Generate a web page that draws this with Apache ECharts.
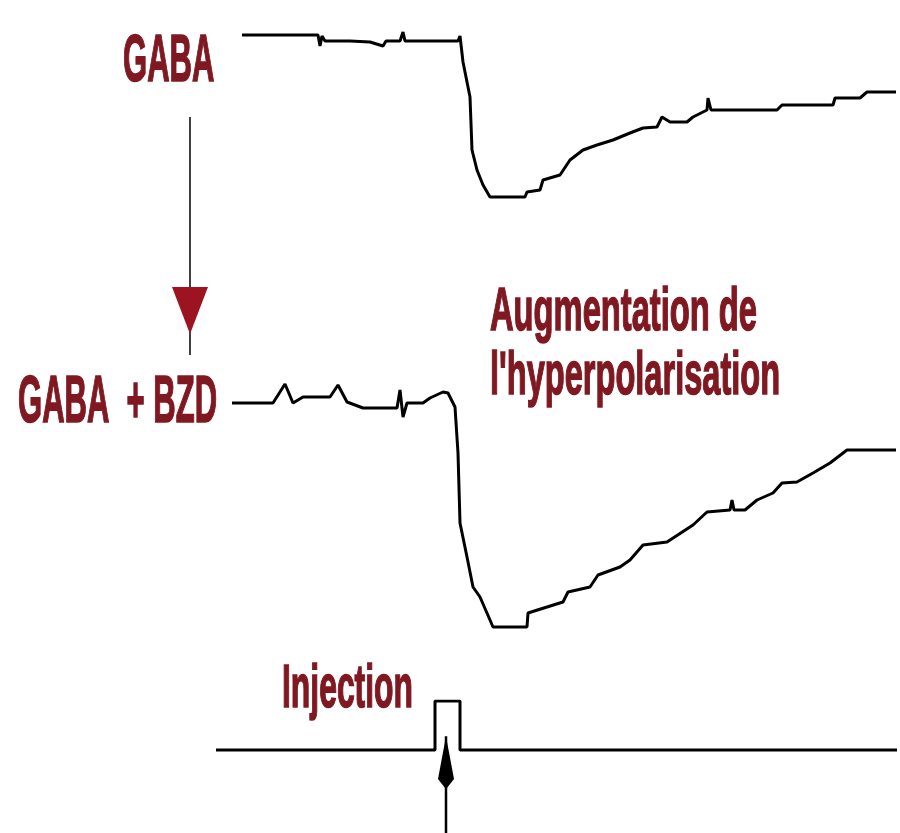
<!DOCTYPE html>
<html>
<head>
<meta charset="utf-8">
<script src="https://cdn.jsdelivr.net/npm/echarts@6/dist/echarts.min.js"></script>
<style>html,body{margin:0;padding:0;background:#fff}#c{width:900px;height:833px}</style>
</head>
<body>
<div id="c"></div>
<script>
// Time (arbitrary units) and membrane potential change (mV, arbitrary) for each trace
const gabaT = [2.4,10.0,10.2,10.4,10.7,13.2,15.2,16.5,16.8,18.2,18.5,18.7,24.0,24.2,24.5,25.2,25.4,25.9,26.5,27.2,30.7,30.9,32.2,32.5,34.2,35.2,36.5,37.9,39.5,41.2,42.5,43.9,44.4,45.2,46.9,47.5,48.9,49.0,49.3,55.9,56.4,61.5,61.7,64.2,64.9,67.8];
const gabaV = [0.2,0.2,-0.9,0.1,-0.4,-0.4,-0.5,-0.9,-0.4,-0.4,0.5,-0.4,-0.4,0.1,-2.5,-6.0,-11.3,-13.3,-14.8,-16.0,-16.0,-15.5,-15.3,-14.3,-13.8,-12.3,-11.3,-10.8,-10.3,-9.6,-9.1,-9.0,-8.0,-8.5,-8.5,-8.0,-7.3,-6.1,-7.3,-7.3,-6.8,-6.8,-6.1,-6.1,-5.5,-5.5];

const bzdT = [1.4,5.5,6.7,7.5,8.5,11.2,12.0,12.9,14.5,17.9,18.2,18.5,18.9,20.5,21.2,22.5,23.0,23.7,24.0,24.2,24.9,25.5,26.2,27.2,27.5,30.9,31.0,32.9,34.5,35.0,37.2,38.0,40.2,41.2,42.5,44.9,47.5,48.9,51.2,51.4,51.6,52.7,53.9,55.5,56.4,57.9,59.5,61.2,62.9,67.8];
const bzdV = [0,0,1.9,0,0.6,0.6,1.8,0.1,-0.5,-0.5,1.3,-1.4,0,0,0.5,1.1,1.0,-0.4,-5.0,-12.0,-15.4,-18.4,-19.4,-21.7,-22.4,-22.4,-21.0,-20.4,-19.9,-18.9,-18.4,-17.2,-16.4,-15.7,-14.2,-13.9,-12.2,-10.9,-10.7,-9.7,-10.7,-10.7,-9.7,-9.0,-8.0,-7.9,-7.0,-6.0,-4.7,-4.7];

const injT = [-0.2,21.7,21.7,24.2,24.2,67.9];
const injV = [0,0,1,1,0,0];

const arrowT = [22.8,22.8];
const arrowV = [-1.7,0.28];

const labels = {
  gaba: 'GABA',
  gabaBzd: 'GABA  + BZD',
  aug1: 'Augmentation de',
  aug2: "l'hyperpolarisation",
  inj: 'Injection'
};

const zip = (a,b) => a.map((t,i)=>[t,b[i]]);
const RED = '#7f1820';
const FONT = '"Liberation Sans", Arial, sans-serif';

function label(text, left, cy, size, sx){
  return {
    type:'text', x:left, y:cy, scaleX:sx, scaleY:1,
    style:{text:text, fontSize:size, fontWeight:'bold', fontFamily:FONT, fill:RED,
           stroke:RED, lineWidth:1.6,
           textAlign:'left', textVerticalAlign:'middle'}
  };
}

const chart = echarts.init(document.getElementById('c'), null, {renderer:'canvas'});
const grids = [
  {left:208, right:2, top:17, height:200},
  {left:208, right:2, top:383, height:260},
  {left:208, right:2, top:701, height:135}
];
const yRanges = [[-18,2],[-24,2],[-1.7,1]];
const lineStyle = {color:'#000', width:3};

chart.setOption({
  animation:false,
  backgroundColor:'#fff',
  grid:grids,
  xAxis:grids.map((g,i)=>({type:'value', gridIndex:i, min:-1, max:68, show:false})),
  yAxis:yRanges.map((r,i)=>({type:'value', gridIndex:i, min:r[0], max:r[1], show:false})),
  series:[
    {type:'line', xAxisIndex:0, yAxisIndex:0, data:zip(gabaT,gabaV), symbol:'none', lineStyle:lineStyle},
    {type:'line', xAxisIndex:1, yAxisIndex:1, data:zip(bzdT,bzdV), symbol:'none', lineStyle:lineStyle},
    {type:'line', xAxisIndex:2, yAxisIndex:2, data:zip(injT,injV), symbol:'none', lineStyle:lineStyle},
    {type:'line', xAxisIndex:2, yAxisIndex:2, clip:false,
     data:[ {value:[arrowT[0],arrowV[0]], symbol:'none'},
            {value:[arrowT[1],arrowV[1]], symbol:'path://M5,0 L10,42 L5,52 L0,42 Z',
             symbolSize:[16,53], symbolKeepAspect:false, symbolOffset:[0,'50%']} ],
     showSymbol:true, itemStyle:{color:'#000'}, lineStyle:{color:'#000', width:2.5}}
  ],
  graphic:[
    label(labels.gaba, 123, 63, 66, 0.47),
    label(labels.gabaBzd, 18, 404, 66, 0.47),
    label(labels.aug1, 490, 313, 61, 0.536),
    label(labels.aug2, 490, 377, 61, 0.534),
    label(labels.inj, 282, 690, 62, 0.514),
    {type:'line', shape:{x1:190, y1:117, x2:190, y2:355}, style:{stroke:'#000', lineWidth:1.5}},
    {type:'polygon', shape:{points:[[172,287],[208,287],[190,334]]}, style:{fill:'#9c1420'}}
  ]
});
</script>
</body>
</html>
